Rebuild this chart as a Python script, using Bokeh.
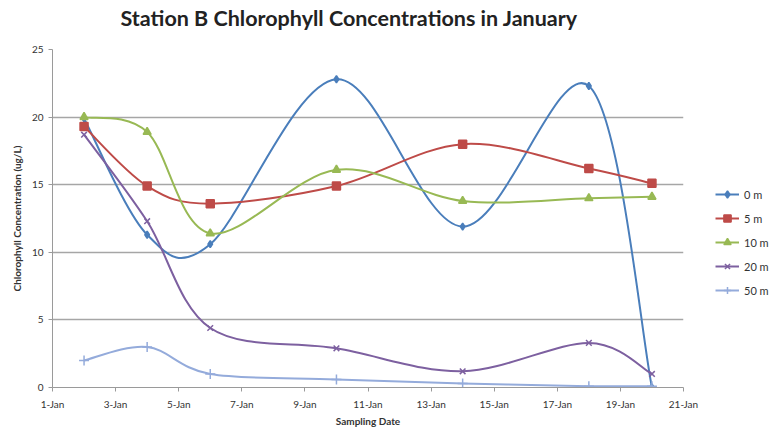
from bokeh.plotting import figure
from bokeh.models import ColumnDataSource, FixedTicker, Legend, LegendItem, Title
from bokeh.embed import file_html
from bokeh.resources import INLINE

# Data (day of January)
days = [2, 4, 6, 10, 14, 18, 20]
series_names = ["0 m", "5 m", "10 m", "20 m", "50 m"]
v0 = [19.9, 11.3, 10.6, 22.8, 11.9, 22.3, 0.0]
v5 = [19.3, 14.9, 13.6, 14.9, 18.0, 16.2, 15.1]
v10 = [20.0, 18.9, 11.4, 16.1, 13.8, 14.0, 14.1]
v20 = [18.7, 12.3, 4.4, 2.9, 1.2, 3.3, 1.0]
v50 = [2.0, 3.0, 1.0, 0.6, 0.3, 0.1, 0.1]
tick_days = [1, 3, 5, 7, 9, 11, 13, 15, 17, 19, 21]
tick_labels = ["1-Jan", "3-Jan", "5-Jan", "7-Jan", "9-Jan", "11-Jan", "13-Jan",
               "15-Jan", "17-Jan", "19-Jan", "21-Jan"]
title_text = "Station B Chlorophyll Concentrations in January"

colors = ["#4A7EBB", "#BE4B48", "#98B954", "#7D60A0", "#94ABDB"]
markers = ["diamond", "square", "triangle", "x", "cross"]
msizes = [7, 8, 8, 8, 10]
values = [v0, v5, v10, v20, v50]

FONT = "Lato"

p = figure(frame_width=631, frame_height=338, x_range=(1, 21), y_range=(0, 25),
           output_backend="svg", toolbar_location=None, title=None,
           min_border_left=52, min_border_right=0, min_border_top=48,
           min_border_bottom=40)
p.outline_line_color = None
p.background_fill_color = "white"

# spacer between frame and title (closest to the frame)
spacer = Title(text=" ", text_font=FONT, text_font_size="10px", standoff=3)
p.add_layout(spacer, "above")
main_title = Title(text=title_text, text_font=FONT, text_font_size="21.5px",
                   text_font_style="bold", text_color="#222222",
                   align="left", offset=68, standoff=4)
p.add_layout(main_title, "above")

p.xgrid.grid_line_color = None
p.ygrid.grid_line_color = "#A6A6A6"
p.ygrid.grid_line_width = 1.3

p.xaxis.ticker = FixedTicker(ticks=tick_days)
p.xaxis.major_label_overrides = {d: l for d, l in zip(tick_days, tick_labels)}
p.yaxis.ticker = FixedTicker(ticks=[0, 5, 10, 15, 20, 25])
for ax in (p.xaxis, p.yaxis):
    ax.axis_line_color = "#9A9A9A"
    ax.major_tick_line_color = "#9A9A9A"
    ax.minor_tick_line_color = None
    ax.major_tick_out = 4
    ax.major_tick_in = 0
    ax.major_label_text_font = FONT
    ax.major_label_text_font_size = "10px"
    ax.major_label_text_color = "#333333"
    ax.axis_label_text_font = FONT
    ax.axis_label_text_font_size = "10px"
    ax.axis_label_text_font_style = "bold"
    ax.axis_label_text_color = "#333333"
p.xaxis.axis_label = "Sampling Date"
p.yaxis.axis_label = "Chlorophyll Concentration (ug/L)"
p.xaxis.axis_label_standoff = 2
p.yaxis.axis_label_standoff = 6
p.xaxis.major_label_standoff = 6


def smooth_segments(xs, ys):
    n = len(xs)
    d = dict(x0=[], y0=[], x1=[], y1=[], cx0=[], cy0=[], cx1=[], cy1=[])
    for i in range(n - 1):
        im = max(i - 1, 0)
        ip = min(i + 2, n - 1)
        x0, y0 = xs[i], ys[i]
        x1, y1 = xs[i + 1], ys[i + 1]
        d["x0"].append(x0); d["y0"].append(y0)
        d["x1"].append(x1); d["y1"].append(y1)
        d["cx0"].append(x0 + (x1 - xs[im]) / 6.0)
        d["cy0"].append(y0 + (y1 - ys[im]) / 6.0)
        d["cx1"].append(x1 - (xs[ip] - x0) / 6.0)
        d["cy1"].append(y1 - (ys[ip] - y0) / 6.0)
    return d


items = []
for name, vals, col, mk, ms in zip(series_names, values, colors, markers, msizes):
    src = ColumnDataSource(smooth_segments(days, vals))
    bz = p.bezier(x0="x0", y0="y0", x1="x1", y1="y1", cx0="cx0", cy0="cy0",
                  cx1="cx1", cy1="cy1", source=src, line_color=col, line_width=2.0)
    sc = p.scatter(days, vals, marker=mk, size=ms, fill_color=col,
                   line_color=col, line_width=1.5)
    items.append(LegendItem(label=name, renderers=[bz, sc]))

legend = Legend(items=items, location=(32, 88))
legend.background_fill_alpha = 0
legend.border_line_color = None
legend.label_text_font = FONT
legend.label_text_font_size = "11px"
legend.label_text_color = "#333333"
legend.glyph_width = 24
legend.glyph_height = 18
legend.label_height = 18
legend.spacing = 6
legend.padding = 0
legend.margin = 0
legend.label_standoff = 5
p.add_layout(legend, "right")

open("out.html", "w").write(file_html(p, INLINE))
